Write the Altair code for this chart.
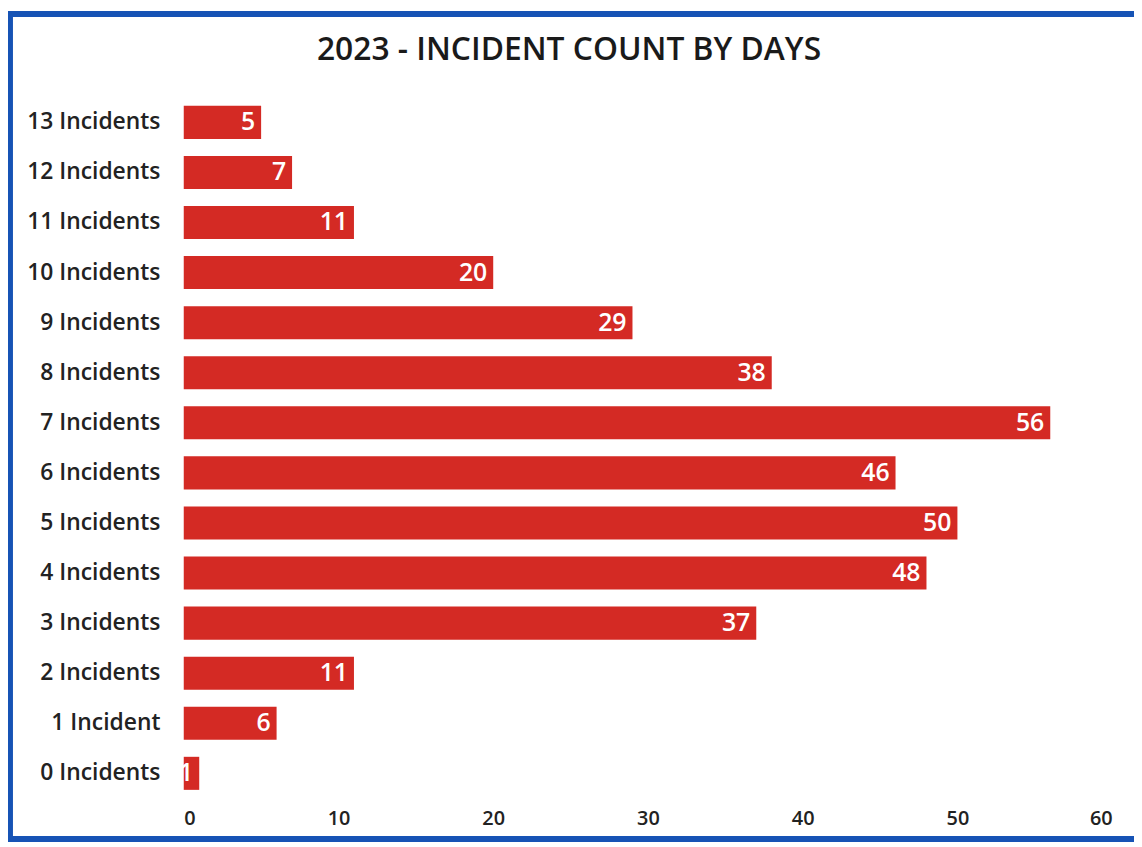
import altair as alt
import pandas as pd

categories = ["13 Incidents", "12 Incidents", "11 Incidents", "10 Incidents",
              "9 Incidents", "8 Incidents", "7 Incidents", "6 Incidents",
              "5 Incidents", "4 Incidents", "3 Incidents", "2 Incidents",
              "1 Incident", "0 Incidents"]
days = [5, 7, 11, 20, 29, 38, 56, 46, 50, 48, 37, 11, 6, 1]
x_ticks = [0, 10, 20, 30, 40, 50, 60]
title_text = "2023 - INCIDENT COUNT BY DAYS"

df = pd.DataFrame({"cat": categories, "days": days})

FONT = "Open Sans"
W, H = 935, 706

base = alt.Chart(df)

bars = base.mark_bar(color="#d42a24").encode(
    y=alt.Y("cat:N", sort=categories, title=None,
            scale=alt.Scale(paddingInner=0.34, paddingOuter=0.17),
            axis=alt.Axis(ticks=False, domain=False, grid=False,
                          labelFont=FONT, labelFontSize=23, labelFontWeight=600,
                          labelColor="#222222", labelPadding=24)),
    x=alt.X("days:Q", title=None,
            scale=alt.Scale(domain=[0, 60], nice=False),
            axis=alt.Axis(values=x_ticks, ticks=False, domain=False, grid=False,
                          labelFont=FONT, labelFontSize=20, labelFontWeight=600,
                          labelColor="#222222", labelPadding=10)),
)

labels = base.mark_text(align="right", baseline="middle", dx=-6, color="white",
                        font=FONT, fontSize=25, fontWeight=600).encode(
    y=alt.Y("cat:N", sort=categories),
    x="days:Q",
    text="days:Q",
)

single = alt.Data(values=[{"t": title_text}])

frame = alt.Chart(single).mark_rect(
    fill=None, stroke="#1653b5", strokeWidth=6).encode(
    x=alt.value(-175), x2=alt.value(962),
    y=alt.value(-84), y2=alt.value(747),
)

title = alt.Chart(single).mark_text(
    align="center", baseline="middle", font=FONT, fontSize=32,
    fontWeight=600, color="#1a1a1a").encode(
    text="t:N",
    x=alt.value(388), y=alt.value(-48),
)

chart = alt.layer(bars, labels, frame, title).properties(
    width=W, height=H,
    background="white",
    padding={"left": 177, "top": 87, "right": 22, "bottom": 46},
    autosize=alt.AutoSizeParams(type="none"),
).configure_view(stroke="transparent", strokeWidth=0)

chart.save("out.html", embed_options={"renderer": "svg", "actions": False})
